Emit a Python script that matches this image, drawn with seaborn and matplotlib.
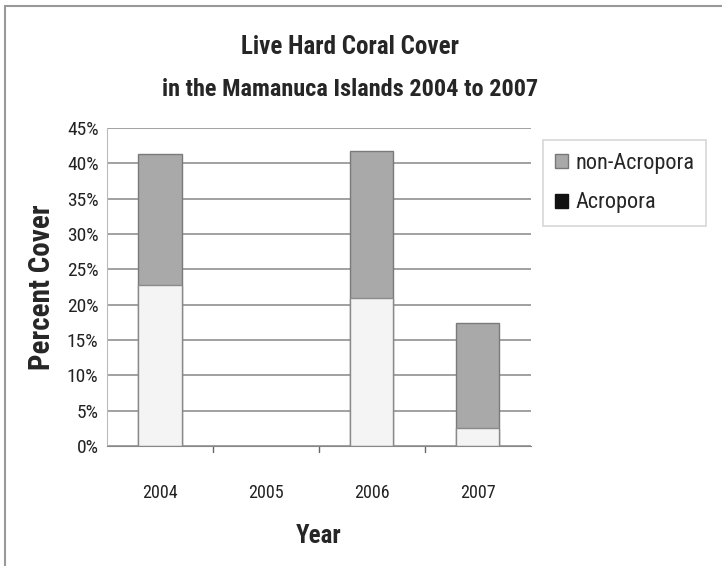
import pandas as pd
import numpy as np
import matplotlib.pyplot as plt
import matplotlib.patches as mpatches
import seaborn as sns

years = ['2004', '2005', '2006', '2007']
acropora = [22.8, np.nan, 20.9, 2.5]
non_acropora = [18.5, np.nan, 20.8, 14.9]
yticks = [0, 5, 10, 15, 20, 25, 30, 35, 40, 45]

df = pd.DataFrame({'Year': years, 'Acropora': acropora, 'non-Acropora': non_acropora})
df['Total'] = df['Acropora'] + df['non-Acropora']

sns.set_style('white')
plt.rcParams['font.family'] = ['Roboto Condensed', 'Liberation Sans', 'DejaVu Sans']

fig = plt.figure(figsize=(7.22, 5.66), dpi=100)
ax = fig.add_axes([0.148, 0.212, 0.587, 0.562])

# stacked bars: total (grey) first, then acropora on top of it
sns.barplot(data=df, x='Year', y='Total', order=years, color='#a9a9a9',
            width=0.41, edgecolor='#7a7a7a', linewidth=1.0, saturation=1, ax=ax)
sns.barplot(data=df, x='Year', y='Acropora', order=years, color='#f4f4f4',
            width=0.41, edgecolor='#8a8a8a', linewidth=1.0, saturation=1, ax=ax)

ax.set_ylim(0, 45)
ax.set_xlim(-0.5, 3.5)
ax.set_yticks(yticks)
ax.set_yticklabels([f'{t}%' for t in yticks], fontsize=14, color='#222222')
ax.set_xticks(range(len(years)))
ax.set_xticklabels(years, fontsize=13, color='#222222')
ax.tick_params(axis='x', length=0, pad=27)
ax.tick_params(axis='y', length=0, pad=6)
for b in [0.5, 1.5, 2.5]:
    ax.plot([b, b], [0, -0.9], color='#666666', lw=1, clip_on=False)

ax.yaxis.grid(True, color='#888888', lw=1.1)
ax.set_axisbelow(True)
for s in ['top', 'right']:
    ax.spines[s].set_visible(False)
ax.spines['left'].set_color('#bbbbbb')
ax.spines['bottom'].set_color('#888888')

ax.set_xlabel('Year', fontsize=18, fontweight='bold', labelpad=16)
ax.set_ylabel('Percent Cover', fontsize=21, fontweight='bold', labelpad=8)

fig.text(0.485, 0.917, 'Live Hard Coral Cover', ha='center', va='center',
         fontsize=18, fontweight='bold')
fig.text(0.485, 0.842, 'in the Mamanuca Islands 2004 to 2007', ha='center', va='center',
         fontsize=17.5, fontweight='bold')

handles = [mpatches.Patch(facecolor='#a9a9a9', edgecolor='#777777', label='non-Acropora'),
           mpatches.Patch(facecolor='#111111', edgecolor='#111111', label='Acropora')]
leg = fig.legend(handles=handles, loc='upper left', bbox_to_anchor=(0.752, 0.752),
                 fontsize=16, frameon=True, fancybox=False, shadow=False,
                 handlelength=0.6, handleheight=0.6, handletextpad=0.3,
                 labelspacing=0.85, borderpad=0.55, borderaxespad=0)
leg.get_frame().set_edgecolor('#cccccc')
leg.get_frame().set_linewidth(1.2)

# outer chart frame
fig.patches.append(mpatches.Rectangle((0.007, -0.01), 1.0, 1.0, transform=fig.transFigure,
                                      fill=False, edgecolor='#999999', lw=1.5))

fig.savefig('out.png', dpi=100)
